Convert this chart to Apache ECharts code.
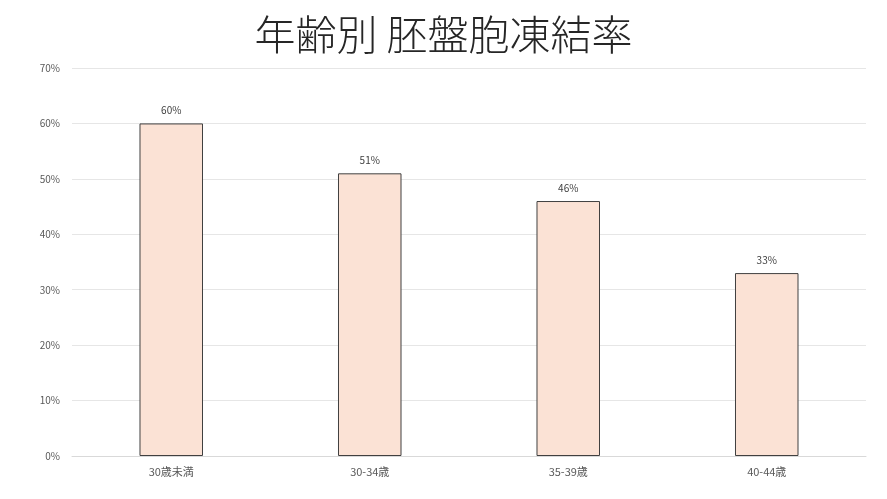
<html>
<head>
<meta charset="utf-8">
<script src="https://cdn.jsdelivr.net/npm/echarts@6/dist/echarts.min.js"></script>
</head>
<body style="margin:0">
<div id="main" style="width:887px;height:499px;"></div>
<script type="text/javascript">
var titleText = '年齢別 胚盤胞凍結率';
var categories = ['30歳未満', '30-34歳', '35-39歳', '40-44歳'];
var freezeRates = [60, 51, 46, 33];

var myChart = echarts.init(document.getElementById('main'));
var option = {
	animation: false,
	textStyle: { fontFamily: 'Noto Sans CJK JP' },
	title: {
		text: titleText,
		left: 'center',
		top: 9,
		textStyle: {
			fontFamily: 'Noto Sans CJK JP',
			fontSize: 41,
			fontWeight: 300,
			color: '#262626'
		}
	},
	grid: { left: 72, right: 21, top: 68, bottom: 43 },
	xAxis: {
		type: 'category',
		data: categories,
		axisLine: { lineStyle: { color: '#d9d9d9' } },
		axisTick: { show: false },
		axisLabel: { color: '#595959', fontSize: 11, margin: 10 }
	},
	yAxis: {
		type: 'value',
		min: 0,
		max: 70,
		interval: 10,
		axisLine: { show: false },
		axisTick: { show: false },
		axisLabel: { color: '#595959', fontSize: 10, margin: 12, formatter: '{value}%' },
		splitLine: { lineStyle: { color: '#e6e6e6' } }
	},
	series: [{
		type: 'bar',
		data: freezeRates,
		barWidth: '32%',
		itemStyle: { color: '#fbe2d5', borderColor: '#404040', borderWidth: 1 },
		label: {
			show: true,
			position: 'top',
			distance: 8,
			formatter: '{c}%',
			color: '#404040',
			fontSize: 10
		}
	}]
};
myChart.setOption(option);
</script>
</body>
</html>
